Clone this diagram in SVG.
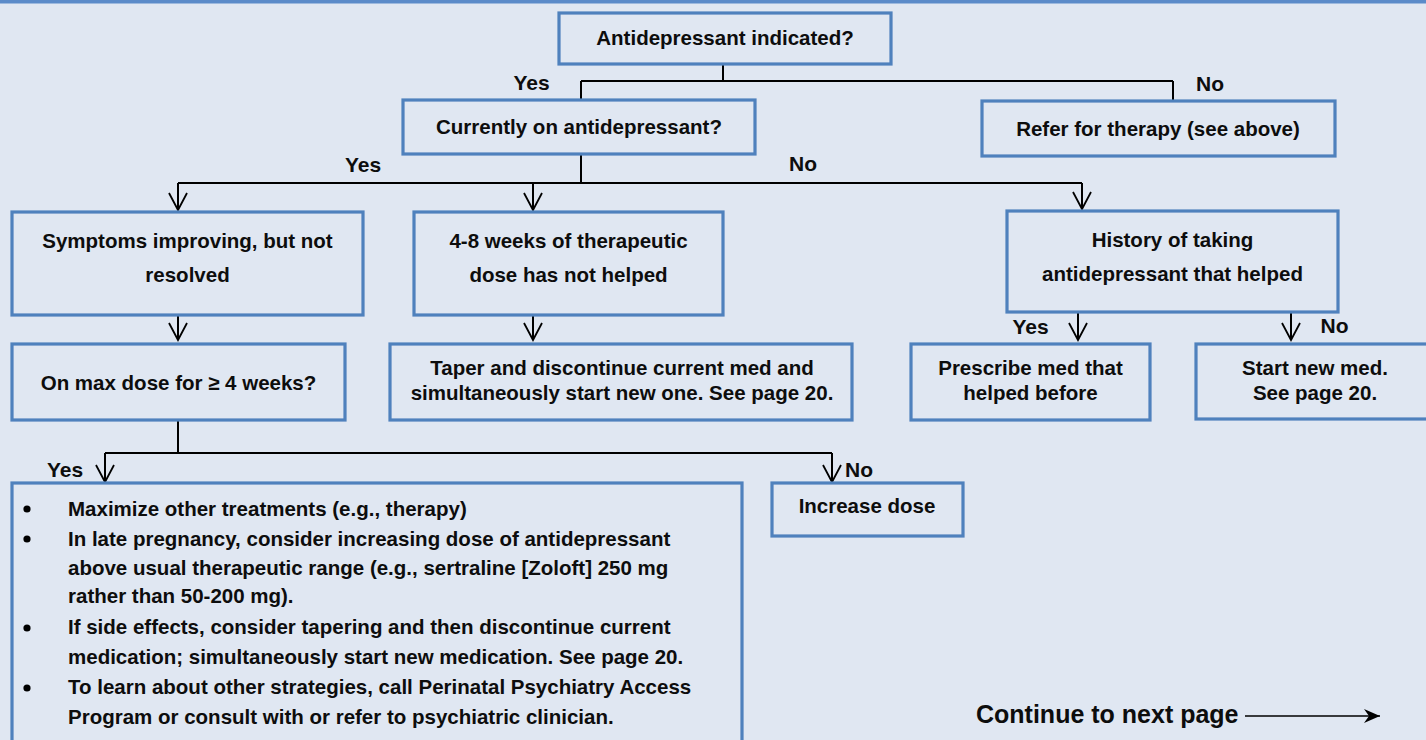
<svg xmlns="http://www.w3.org/2000/svg" width="1426" height="740" viewBox="0 0 1426 740">
<defs>
<style>
.bg{fill:#E0E7F2}
.box{fill:none;stroke:#4F81BD;stroke-width:3.2}
.t{font-family:"Liberation Sans",Arial,sans-serif;font-weight:bold;font-size:20.5px;fill:#0d0d0d}
.c{text-anchor:middle}
.lbl{font-family:"Liberation Sans",Arial,sans-serif;font-weight:bold;font-size:21px;fill:#0d0d0d}
.ln{fill:none;stroke:#000;stroke-width:2}
.ar{fill:none;stroke:#000;stroke-width:2;marker-end:url(#v)}
</style>
<marker id="v" markerUnits="userSpaceOnUse" viewBox="-20 -12 24 24" markerWidth="24" markerHeight="24" refX="0" refY="0" orient="auto" overflow="visible">
<path d="M-17,-9 L0,0 L-17,9" fill="none" stroke="#000" stroke-width="1.8"/>
</marker>
<marker id="f" markerUnits="userSpaceOnUse" viewBox="-18 -9 20 18" markerWidth="20" markerHeight="18" refX="0" refY="0" orient="auto" overflow="visible">
<path d="M0,0 L-16,-7 L-11,0 L-16,7 Z" fill="#000"/>
</marker>
</defs>
<rect class="bg" x="0" y="0" width="1426" height="740"/>
<rect x="0" y="0" width="1426" height="3.5" fill="#5B8BC9"/>

<g id="connectors">
<path class="ln" d="M723,64 V81 M581,81 H1173 M581,81 V100 M1173,81 V100"/>
<path class="ln" d="M581,154 V183 M178,183 H1082"/>
<path class="ar" d="M178,183 V210"/>
<path class="ar" d="M533,183 V210"/>
<path class="ar" d="M1082,183 V209"/>
<path class="ar" d="M178,315 V340"/>
<path class="ar" d="M533,315 V340"/>
<path class="ar" d="M1078,312 V340"/>
<path class="ar" d="M1291,312 V340"/>
<path class="ln" d="M178,420 V453 M105,453 H832"/>
<path class="ar" d="M105,453 V482"/>
<path class="ar" d="M832,453 V482"/>
<path fill="none" stroke="#000" stroke-width="1.6" marker-end="url(#f)" d="M1245,716 H1380"/>
</g>

<g id="labels">
<text class="lbl c" x="531.5" y="90">Yes</text>
<text class="lbl c" x="1210" y="91">No</text>
<text class="lbl c" x="363" y="172">Yes</text>
<text class="lbl c" x="803" y="171">No</text>
<text class="lbl c" x="1030.5" y="334">Yes</text>
<text class="lbl c" x="1334.5" y="333">No</text>
<text class="lbl c" x="65" y="477">Yes</text>
<text class="lbl c" x="859" y="477">No</text>
</g>

<g id="n-indicated">
<rect class="box" x="559" y="13" width="332" height="51"/>
<text class="t c" x="725" y="45">Antidepressant indicated?</text>
</g>
<g id="n-currently">
<rect class="box" x="403" y="100" width="352" height="54"/>
<text class="t c" x="579" y="134">Currently on antidepressant?</text>
</g>
<g id="n-refer">
<rect class="box" x="982" y="101" width="353" height="55"/>
<text class="t c" x="1158" y="136">Refer for therapy (see above)</text>
</g>
<g id="n-symptoms">
<rect class="box" x="12" y="212" width="351" height="103"/>
<text class="t c" x="187.5" y="248">Symptoms improving, but not</text>
<text class="t c" x="187.5" y="282">resolved</text>
</g>
<g id="n-weeks">
<rect class="box" x="414" y="212" width="309" height="103"/>
<text class="t c" x="568.5" y="248">4-8 weeks of therapeutic</text>
<text class="t c" x="568.5" y="282">dose has not helped</text>
</g>
<g id="n-history">
<rect class="box" x="1007" y="211" width="331" height="101"/>
<text class="t c" x="1172.5" y="247">History of taking</text>
<text class="t c" x="1172.5" y="281">antidepressant that helped</text>
</g>
<g id="n-maxdose">
<rect class="box" x="12" y="344" width="333" height="76"/>
<text class="t c" x="178.5" y="390">On max dose for ≥ 4 weeks?</text>
</g>
<g id="n-taper">
<rect class="box" x="390" y="344" width="462" height="76"/>
<text class="t c" x="622" y="375">Taper and discontinue current med and</text>
<text class="t c" x="622" y="400">simultaneously start new one. See page 20.</text>
</g>
<g id="n-prescribe">
<rect class="box" x="911" y="344" width="239" height="76"/>
<text class="t c" x="1030.5" y="375">Prescribe med that</text>
<text class="t c" x="1030.5" y="400">helped before</text>
</g>
<g id="n-startnew">
<rect class="box" x="1196" y="344" width="240" height="75"/>
<text class="t c" x="1315" y="375">Start new med.</text>
<text class="t c" x="1315" y="400">See page 20.</text>
</g>
<g id="n-increase">
<rect class="box" x="772" y="483" width="191" height="53"/>
<text class="t c" x="867" y="513">Increase dose</text>
</g>
<g id="n-options">
<rect class="box" x="12" y="483" width="730" height="280"/>
<g fill="#000">
<circle cx="27" cy="509" r="3.6"/>
<circle cx="27" cy="539" r="3.6"/>
<circle cx="27" cy="628" r="3.6"/>
<circle cx="27" cy="688" r="3.6"/>
</g>
<text class="t" x="68" y="516">Maximize other treatments (e.g., therapy)</text>
<text class="t" x="68" y="546">In late pregnancy, consider increasing dose of antidepressant</text>
<text class="t" x="68" y="575">above usual therapeutic range (e.g., sertraline [Zoloft] 250 mg</text>
<text class="t" x="68" y="603">rather than 50-200 mg).</text>
<text class="t" x="68" y="634">If side effects, consider tapering and then discontinue current</text>
<text class="t" x="68" y="664">medication; simultaneously start new medication. See page 20.</text>
<text class="t" x="68" y="694">To learn about other strategies, call Perinatal Psychiatry Access</text>
<text class="t" x="68" y="724">Program or consult with or refer to psychiatric clinician.</text>
</g>
<g id="n-continue">
<text class="t" x="976" y="723" style="font-size:25px">Continue to next page</text>
</g>
</svg>
